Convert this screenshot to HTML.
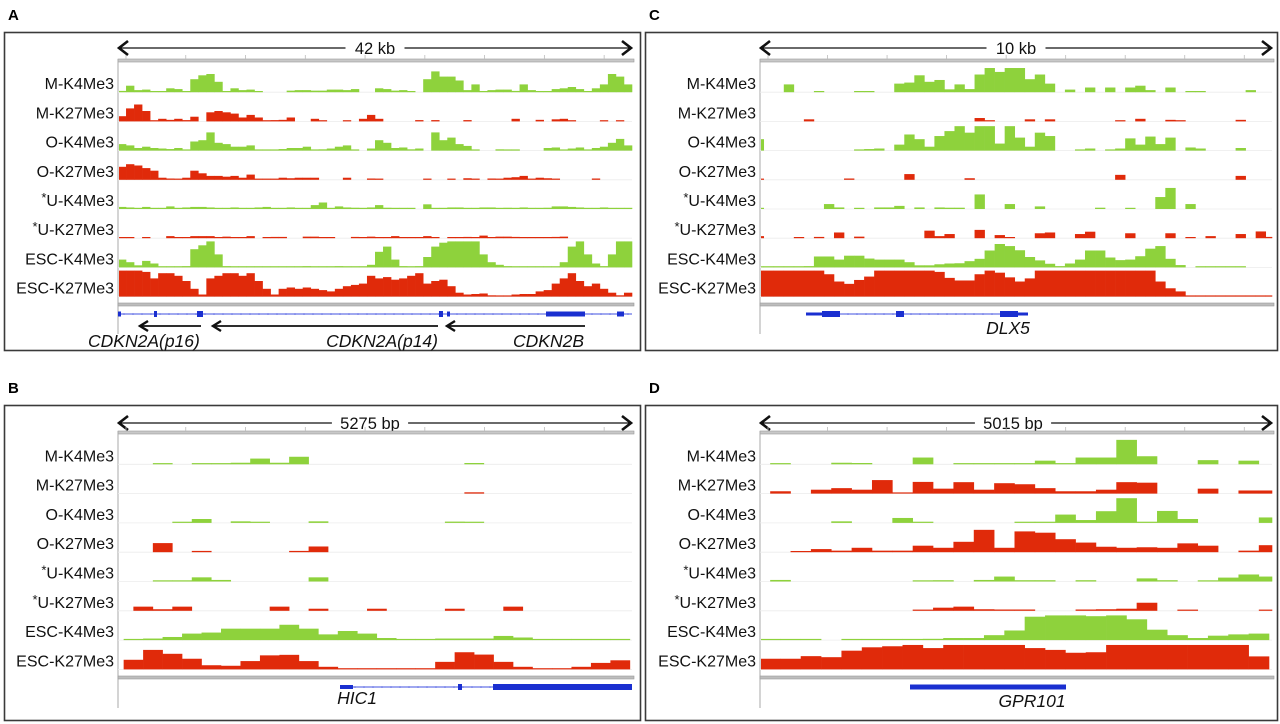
<!DOCTYPE html>
<html><head><meta charset="utf-8"><style>
html,body{margin:0;padding:0;background:#fff}
svg{display:block;font-family:"Liberation Sans",Arial,sans-serif}
</style></head><body>
<svg id="fig" width="1280" height="724" viewBox="0 0 1280 724" xmlns="http://www.w3.org/2000/svg"></svg>
<script>
// ---------- data ----------
const trackLabels = ["M-K4Me3","M-K27Me3","O-K4Me3","O-K27Me3","U-K4Me3","U-K27Me3","ESC-K4Me3","ESC-K27Me3"];
const trackStar = [false,false,false,false,true,true,false,false];
const trackMark = ["K4","K27","K4","K27","K4","K27","K4","K27"];

// Panel A (CDKN2A/B, 64 bins)
const aMK4 = [.5,2.5,.8,1,.3,.2,1.5,1.2,.3,5, 6.5,7,4,.2,1.5,.8,1,.2,0,0, 0,.6,.8,.8,.6,.6,1,1,.8,1.2, 0,0,1.5,1.2,.6,.8,.2,0,5,8, 6,6,4.5,.8,3,.3,.8,1,1,.5, 3,.8,.2,.3,1.2,1.5,2,1.2,.3,1.5, 3,7,6,3];
const aMK27 = [2,5,6.5,4,.3,1,.6,1,.5,1.8, 0,3.5,4,3.5,3,1.5,2.5,1.5,.3,.5, .6,1.5,0,0,1,.3,0,0,.3,0, 1,2.5,1,0,0,0,0,.5,0,.5, 0,0,0,.5,0,0,0,0,0,1, 0,0,.6,0,.8,1,.3,0,0,0, .3,0,.3,0];
const aOK4 = [2.5,2,1,1.5,1,.8,.6,1,.3,3.5, 4,7,3,2.5,1.5,1.5,2,.2,.3,.3, .6,1,1,1.5,.3,.5,.8,1.5,2,.2, 0,.8,4,3,1,1.2,.5,.8,0,7, 4,5,2.5,1.8,.3,0,0,.5,.2,.3, 0,0,0,1,1.2,.3,.8,1.2,.3,1, 1.5,3,4.5,2];
const aOK27 = [5,6,5.5,4.5,3.5,.8,.5,.3,.8,3.5, 2.5,1.5,1.5,1.2,1.5,.8,2,.3,.2,.3, .8,.6,.8,.8,.8,0,0,0,.8,0, 0,.5,.3,0,0,0,0,0,.3,0, 0,.3,0,.6,.3,0,.5,.3,.8,1, 1.5,.3,.8,.6,.3,0,0,0,0,.5, 0,0,0,0];
const aUK4 = [.8,.6,.3,.8,.3,.3,1,.3,.6,.8, .8,.6,.3,.3,.6,.3,.3,.6,.8,.3, .3,.6,.3,.3,1.5,2.5,.3,1,.6,.5, .3,.6,1.5,.5,.3,.3,.3,0,1.8,.3, .3,.6,.6,.3,.3,.6,.6,.3,.5,.3, .6,.3,.3,.5,1,1,.8,.6,.3,.3, .6,.3,.3,.3];
const aUK27 = [.3,.2,0,.3,0,0,.8,.2,.3,.8, .8,.8,.3,.6,.3,.3,.8,0,.3,.5, .5,0,0,.6,.6,.3,.3,0,0,.5, .3,.6,.3,.3,.8,.3,.3,.3,.8,.3, 0,.3,.3,.5,.3,1,.3,.6,.6,.5, .3,.3,.3,.3,.5,.6,0,0,0,0, 0,0,0,0];
const aEK4 = [3,2,.8,2.5,1.5,.3,.3,.3,.5,7, 8.5,10,5,.5,.3,.2,.2,.2,.2,.2, .2,.2,.2,.5,.3,.3,.3,.5,.3,.2, .3,1,6,8,3,.5,.3,.5,4,8, 9.5,10,10,10,10,5,2,1,.5,.3, .2,.3,.3,.2,.2,2,8,10,5,1.5, .5,5,10,10];
const aEK27 = [10,10,10,9.5,7,9,9,8,6,3, .8,7,8,9,9,8,9,6,3,.8, 3,3.5,3,3.5,3,2.5,2,3,4,4.5, 5,8,7,7.5,6.5,7,8,9,5,6, 6.5,4,1.5,.8,1,1.2,.5,.3,.2,.8, 1,1,2,2.5,5,7,9,6,4,5, 3,1.5,.5,1.5];

// Panel C (DLX5, 52 bins)
const cMK4 = [0,0,0,3,0,0,.4,0,0,0, .3,.3,0,0,3.3,3.7,6.5,4,4.7,1.1, 3,1.2,6.8,9.3,7.8,9.3,9.3,5,6.8,3.3, 0,1,0,1.8,0,1.8,0,1.8,2.5,.8, 0,1.8,0,.3,.3,0,0,0,0,.8, 0,0];
const cMK27 = [0,0,0,0,0,.8,0,0,0,0, 0,0,0,0,0,0,0,0,0,0, 0,0,1.3,.3,0,0,0,.8,0,.8, 0,0,0,0,0,0,.3,0,1,0, 0,.6,.2,0,0,0,0,0,.6,0, 0,0];
const cOK4 = [4.4,0,0,0,0,0,0,0,0,0, .3,.6,.8,0,2.3,6.2,4.4,1.5,5.6,7.5, 9.4,6.9,9.4,9.4,2.7,9.4,5,1.5,6.9,5.6, 0,0,.3,.8,0,.3,.8,4.7,2.3,5.4, 2.5,5,0,1.2,.8,0,0,0,1,0, 0,0];
const cOK27 = [.3,0,0,0,0,0,0,0,0,.5, 0,0,0,0,0,2.2,0,0,0,0, 0,.6,0,0,0,0,0,0,0,0, 0,0,0,0,0,0,1.9,0,0,0, 0,0,0,0,0,0,0,0,1.5,0, 0,0];
const cUK4 = [.3,0,0,0,0,0,0,1.9,.6,0, .3,0,.6,.6,1.2,0,.6,0,.6,.5, .5,0,5.6,0,0,1.9,0,0,1,0, 0,0,0,0,.5,0,0,.2,0,0, 4.6,8.1,0,1.9,0,0,0,0,0,0, 0,0];
const cUK27 = [.8,0,0,0,.3,0,.5,0,2.2,0, .6,0,0,0,0,0,0,2.9,.8,1.6, 0,0,3.2,0,1.2,.3,0,0,1.9,2.2, 0,0,1.6,2.5,0,0,0,1.9,0,0, 0,1.9,0,.3,0,.8,0,0,1.6,0, 2.6,.5];
const cEK4 = [.1,.1,.1,.2,.3,.5,4.2,4.2,3,4.5, 4.5,3.4,3,3,3,2,.8,.8,1.2,1.5, 1.6,2.4,3.3,6.5,9,8.2,6.6,4,2.7,1.4, .5,1.5,3,6.5,6.5,3.8,2.8,3,4.3,7.2, 8.2,3.3,.9,0,.3,.3,.3,.3,.3,0, 0,0];
const cEK27 = [10,10,10,10,10,10,10,8.6,5.8,4.9, 6.4,7.7,10,10,10,10,10,10,9.5,7.2, 6.2,6.2,8.6,10,9.2,7.4,5.8,7,10,10, 10,10,10,10,10,10,10,10,10,10, 5.8,3.2,2,.4,.4,.4,.4,.4,.4,.4, .4,.4];

// Panel B (HIC1, 26 bins)
const bMK4 = [0,.1,0,.2,.3,.6,2.2,.6,2.9,0, 0,0,0,0,0,0,0,.5,0,0, 0,0,0,0,0,0];
const bMK27 = [0,0,0,0,0,0,0,0,0,0, 0,0,0,0,0,0,0,.5,0,0, 0,0,0,0,0,0];
const bOK4 = [0,0,.3,1.5,0,.6,.2,0,0,.6, 0,0,0,0,0,0,.5,.4,0,0, 0,0,0,0,0,0];
const bOK27 = [0,3.5,0,.5,0,0,0,0,.5,2.2, 0,0,0,0,0,0,0,0,0,0, 0,0,0,0,0,0];
const bUK4 = [0,.2,.3,1.6,.6,0,0,0,0,1.6, 0,0,0,0,0,0,0,0,0,0, 0,0,0,0,0,0];
const bUK27 = [1.6,.6,1.6,0,0,0,0,1.6,0,.8, 0,0,.8,0,0,0,.8,0,0,1.6, 0,0,0,0,0,0];
const bEK4 = [.2,.6,1.2,2.5,2.9,4.4,4.4,4.4,5.9,4.4, 2.2,3.5,2.5,.8,.2,.3,.6,.6,.6,1.6, 1,.4,.2,.1,.1,.1];
const bEK27 = [3.7,7.5,6,4.1,1.6,1.4,3.2,5.4,5.6,3.2, 1,.4,.2,.2,.2,.2,2.9,6.6,5.7,2.9, 1,.2,.3,1,2.5,3.5];

// Panel D (GPR101, 25 bins)
const dMK4 = [.3,0,0,.6,.5,0,0,2.6,0,.3, .2,.3,.4,1.4,.1,2.6,2.6,9.4,3.1,0, 0,1.6,0,1.4,0];
const dMK27 = [.9,0,1.5,2.1,1.5,5.2,.1,4.5,1.9,4.4, 1.5,4,3.6,2.1,.9,.9,1.5,4.4,4.2,0, 0,1.9,0,1.2,1.2];
const dOK4 = [0,0,0,.6,0,0,1.9,.3,0,0, 0,0,.2,.3,3.2,1.1,4.5,9.5,.2,4.6, 1.5,0,0,0,2.1];
const dOK27 = [0,.2,1.2,.6,1.7,.6,.6,2.5,1.7,4, 8.6,1.7,8,7.5,5,3.7,2.1,1.7,1.9,1.7, 3.4,2.5,0,.6,2.7];
const dUK4 = [.6,0,0,0,0,0,0,.2,.5,0, .6,1.9,.5,.5,0,.5,0,0,1.2,.5, 0,.1,1.5,2.7,1.9];
const dUK27 = [0,0,0,0,0,0,0,.1,1.2,1.6, .6,.5,.5,0,0,.5,.6,.8,3.1,0, .2,0,0,0,.2];
const dEK4 = [.3,.3,.1,0,.2,.2,.2,.1,.5,.8, .8,1.9,3.7,9,9.5,9.5,9.2,9.5,8,4, 1.9,.8,1.7,2.2,2.5];
const dEK27 = [4.1,4.1,5.1,4.7,7.2,8.5,8.9,9.4,8.2,9.4, 9.4,9.4,9.4,8.2,7.5,6.4,6.6,9.4,9.4,9.4, 9.4,9.4,9.4,9.4,5];

const scaleLabels = ["42 kb","5275 bp","10 kb","5015 bp"];
const panelLetters = ["A","B","C","D"];
const geneNames = ["CDKN2A(p16)","CDKN2A(p14)","CDKN2B","HIC1","DLX5","GPR101"];

// ---------- rendering ----------
const NS = "http://www.w3.org/2000/svg";
const svg = document.getElementById("fig");
const GREEN = "#8ed23c", RED = "#e02a0a";
function mk(tag, attrs, parent){ const e=document.createElementNS(NS,tag); for(const k in attrs) e.setAttribute(k,attrs[k]); (parent||svg).appendChild(e); return e; }

const panels = [
  {id:"a", letter:panelLetters[0], bx:4,by:32,bw:636,bh:318, left:118,right:632, binW:514/64, offE:0, offS:0, top:63, rowH:29.2, arrowY:48, rulerY:59, botLineY:303, lineEnd:334, scale:scaleLabels[0], scaleX:375,
   tracks:[aMK4,aMK27,aOK4,aOK27,aUK4,aUK27,aEK4,aEK27]},
  {id:"b", letter:panelLetters[1], bx:4,by:405,bw:636,bh:315, left:118,right:632, binW:19.47, offE:0.29, offS:0.79, top:435, rowH:29.3, arrowY:423, rulerY:431, botLineY:676, lineEnd:708, scale:scaleLabels[1], scaleX:370,
   tracks:[bMK4,bMK27,bOK4,bOK27,bUK4,bUK27,bEK4,bEK27]},
  {id:"c", letter:panelLetters[2], bx:645,by:32,bw:632,bh:318, left:760,right:1272, binW:10.04, offE:-0.63, offS:-0.63, top:63, rowH:29.2, arrowY:48, rulerY:59, botLineY:303, lineEnd:334, scale:scaleLabels[2], scaleX:1016,
   tracks:[cMK4,cMK27,cOK4,cOK27,cUK4,cUK27,cEK4,cEK27]},
  {id:"d", letter:panelLetters[3], bx:645,by:405,bw:632,bh:315, left:760,right:1272, binW:20.36, offE:0, offS:0.5, top:435, rowH:29.3, arrowY:423, rulerY:431, botLineY:676, lineEnd:708, scale:scaleLabels[3], scaleX:1013,
   tracks:[dMK4,dMK27,dOK4,dOK27,dUK4,dUK27,dEK4,dEK27]}
];
const PX_PER_UNIT = 2.6;

panels.forEach(p => {
  const g = mk("g",{});
  
  
  const lt = mk("text",{x:p.bx+4, y:p.by-12, "font-size":15, "font-weight":"bold", fill:"#000"}, g);
  lt.textContent = p.letter;
  
  
  const box = mk("rect",{x:p.bx+.5,y:p.by+.5,width:p.bw,height:p.bh,fill:"none",stroke:"#3a3a3a","stroke-width":1.6}, g);
  
  

  const sg = mk("g",{}, g);
  
  
  const tw = p.scale.length*8.6 + 16;
  mk("line",{x1:p.left+1,y1:p.arrowY,x2:p.scaleX-tw/2,y2:p.arrowY,stroke:"#111","stroke-width":1.3}, sg);
  mk("line",{x1:p.scaleX+tw/2,y1:p.arrowY,x2:p.right-1,y2:p.arrowY,stroke:"#111","stroke-width":1.3}, sg);
  mk("polyline",{points:`${p.left+10},${p.arrowY-7} ${p.left+1},${p.arrowY} ${p.left+10},${p.arrowY+7}`,fill:"none",stroke:"#111","stroke-width":2.6}, sg);
  mk("polyline",{points:`${p.right-10},${p.arrowY-7} ${p.right-1},${p.arrowY} ${p.right-10},${p.arrowY+7}`,fill:"none",stroke:"#111","stroke-width":2.6}, sg);
  const st = mk("text",{x:p.scaleX,y:p.arrowY+6,"text-anchor":"middle","font-size":16.5,fill:"#111"}, sg);
  st.textContent = p.scale;
  
  

  mk("rect",{x:p.left,y:p.rulerY,width:p.right-p.left+2,height:3,fill:"#c8c8c8",stroke:"#9a9a9a","stroke-width":.6}, g);
  for(let i=0;i<9;i++){ const tx=p.left+8+(p.right-p.left)*i/8.6; mk("line",{x1:tx,y1:p.rulerY-4,x2:tx,y2:p.rulerY,stroke:"#bbb","stroke-width":.8}, g); }
  mk("line",{x1:p.left,y1:p.rulerY,x2:p.left,y2:p.lineEnd,stroke:"#aaa","stroke-width":1}, g);
  mk("rect",{x:p.left,y:p.botLineY,width:p.right-p.left+2,height:3,fill:"#bdbdbd",stroke:"#999","stroke-width":.6}, g);

  p.tracks.forEach((vals, ti) => {
    const base = p.top + p.rowH*(ti+1);
    const tg = mk("g",{}, g);
    
    
    mk("line",{x1:p.left,y1:base,x2:p.right,y2:base,stroke:"#ececec","stroke-width":.8}, tg);
    const lab = mk("text",{x:p.left-4,y:base-3,"text-anchor":"end","font-size":16,fill:"#111"}, tg);
    if(trackStar[ti]){ const s=mk("tspan",{dy:-4,"font-size":13},lab); s.textContent="*"; const r=mk("tspan",{dy:4},lab); r.textContent=trackLabels[ti]; }
    else lab.textContent = trackLabels[ti];
    
    
    const isESC = ti>=6;
    const off = isESC ? p.offE : p.offS;
    const color = trackMark[ti]==="K4" ? GREEN : RED;
    const xOf = i => p.left + (i+off)*p.binW;
    vals.forEach((v,i) => {
      if(!(v>0)) return;
      let x0 = Math.max(p.left+1, xOf(i)), x1 = Math.min(p.right, xOf(i+1));
      if(x1<=x0) return;
      const h = Math.max(1.2, v*PX_PER_UNIT);
      const b = mk("rect",{x:x0,y:base-h,width:x1-x0+0.3,height:h,fill:color}, tg);
      
      
    });
  });
});

function geneLine(x1,x2,y,parent){ mk("line",{x1,y1:y,x2,y2:y,stroke:"#4050e0","stroke-width":1}, parent);
  for(let x=x1+6;x<x2;x+=9) mk("circle",{cx:x,cy:y,r:.8,fill:"#4050e0"}, parent); }
function exon(x1,x2,y,h,parent){ mk("rect",{x:x1,y:y-h/2,width:x2-x1,height:h,fill:"#1a2fd0"}, parent); }
function gText(txt,x,y,anchor,parent){ const t=mk("text",{x,y,"text-anchor":anchor,"font-size":17.5,"font-style":"italic",fill:"#111"}, parent); t.textContent=txt;   return t; }
function leftArrow(x1,x2,y,parent){ mk("line",{x1:x1+2,y1:y,x2,y2:y,stroke:"#111","stroke-width":1.8}, parent);
  mk("polyline",{points:`${x1+9},${y-5} ${x1+1},${y} ${x1+9},${y+5}`,fill:"none",stroke:"#111","stroke-width":2.4}, parent); }

const ga = mk("g",{});  
geneLine(118,632,314,ga);
exon(118,121,314,5,ga); exon(154,157,314,6,ga); exon(197,203,314,6,ga); exon(439,443,314,6,ga); exon(447,450,314,5,ga); exon(546,585,314,5,ga); exon(617,624,314,5,ga);
leftArrow(139,201,326,ga); leftArrow(212,438,326,ga); leftArrow(446,585,326,ga);
gText(geneNames[0],88,347,"start",ga); gText(geneNames[1],438,347,"end",ga); gText(geneNames[2],584,347,"end",ga);

const gb = mk("g",{});  
geneLine(340,632,687,gb); exon(340,353,687,4,gb); exon(458,462,687,6,gb); exon(493,632,687,6,gb);
gText(geneNames[3],357,704,"middle",gb);

const gc = mk("g",{});  
geneLine(806,1028,314,gc); exon(806,822,314,3,gc); exon(822,840,314,6,gc); exon(896,904,314,6,gc); exon(1000,1018,314,6,gc); exon(1018,1028,314,3,gc);
gText(geneNames[4],1008,334,"middle",gc);

const gd = mk("g",{});  
exon(910,1066,687,5,gd);
gText(geneNames[5],1032,707,"middle",gd);
</script>
</body></html>
